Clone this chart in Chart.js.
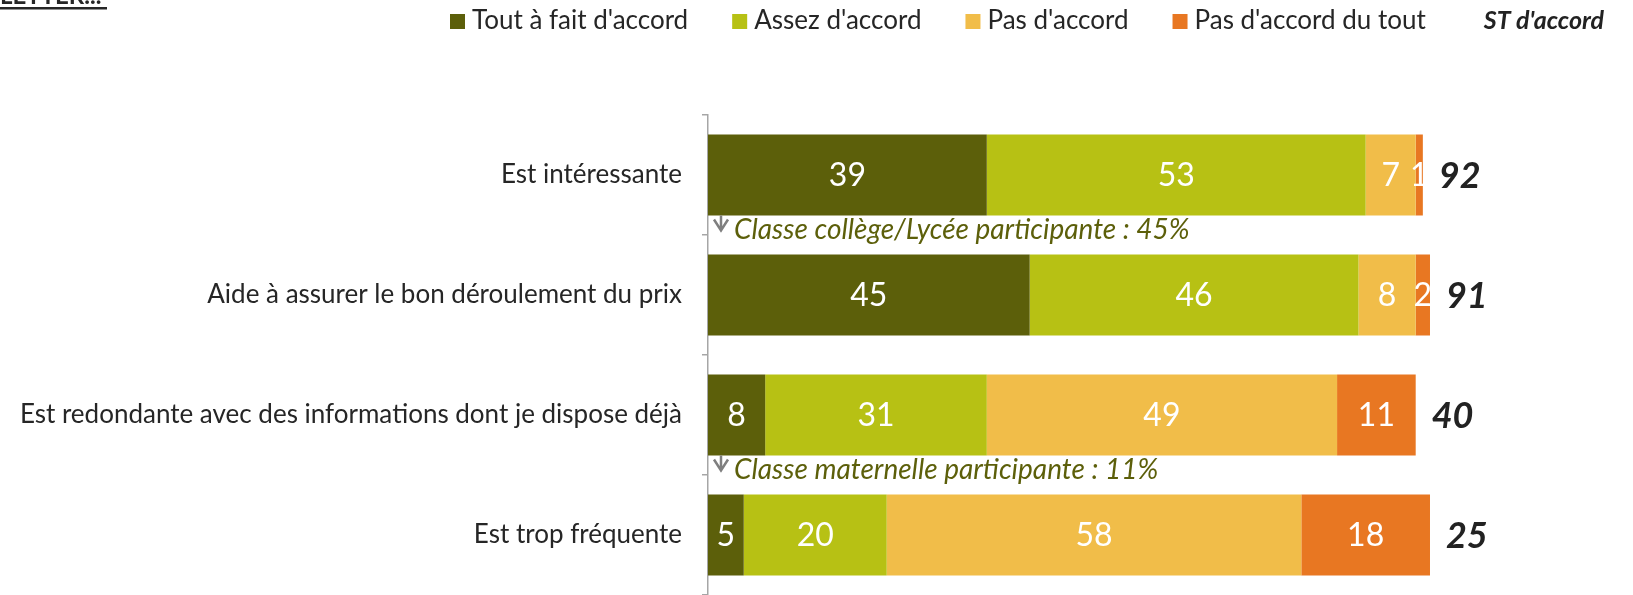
<!DOCTYPE html>
<html>
<head>
<meta charset="utf-8">
<script src="https://cdn.jsdelivr.net/npm/chart.js@4/dist/chart.umd.min.js"></script>
<style>
  body { margin: 0; background: #fff; }
  #wrap { width: 1633px; height: 595px; }
</style>
</head>
<body>
<div id="wrap"><canvas id="accordChart" width="1633" height="595"></canvas></div>
<script>
"use strict";

var categories = [
    "Est intéressante",
    "Aide à assurer le bon déroulement du prix",
    "Est redondante avec des informations dont je dispose déjà",
    "Est trop fréquente"
];
var seriesNames = ["Tout à fait d'accord", "Assez d'accord", "Pas d'accord", "Pas d'accord du tout"];
var toutAFait = [39, 45, 8, 5];
var assez = [53, 46, 31, 20];
var pasAccord = [7, 8, 49, 58];
var pasDuTout = [1, 2, 11, 18];
var stAccord = [92, 91, 40, 25];
var stLabel = "ST d'accord";
var notes = ["Classe collège/Lycée participante : 45%", null, "Classe maternelle participante : 11%", null];

var colors = ["#5c5f0a", "#b7c114", "#f1bd49", "#e87722"];
var FONT = "Lato";

var extras = {
    id: "extras",
    afterDatasetsDraw: function(chart) {
        var ctx = chart.ctx;
        var area = chart.chartArea;
        ctx.save();

        // valeurs dans les barres
        ctx.fillStyle = "#ffffff";
        ctx.textAlign = "center";
        ctx.textBaseline = "middle";
        ctx.font = "32px " + FONT;
        chart.data.datasets.forEach(function(ds, di) {
            var meta = chart.getDatasetMeta(di);
            meta.data.forEach(function(el, i) {
                ctx.fillText(ds.data[i], (el.x + el.base) / 2, el.y + 1);
            });
        });

        // ST d'accord
        var last = chart.getDatasetMeta(chart.data.datasets.length - 1);
        ctx.fillStyle = "#222222";
        ctx.textAlign = "left";
        ctx.font = "italic bold 36px " + FONT;
        last.data.forEach(function(el, i) {
            ctx.fillText(stAccord[i], el.x + 16, el.y + 1);
        });

        // notes sous les barres
        var first = chart.getDatasetMeta(0);
        notes.forEach(function(n, i) {
            if (!n) return;
            var el = first.data[i];
            var b = el.y + el.height / 2;
            var ax = area.left + 13;
            ctx.strokeStyle = "#7f7f7f";
            ctx.lineWidth = 2.5;
            ctx.lineJoin = "miter";
            ctx.beginPath();
            ctx.moveTo(ax, b);
            ctx.lineTo(ax, b + 15);
            ctx.moveTo(ax - 7, b + 4);
            ctx.lineTo(ax, b + 15);
            ctx.lineTo(ax + 7, b + 4);
            ctx.stroke();
            ctx.fillStyle = "#5c5f0a";
            ctx.font = "italic 28px " + FONT;
            ctx.textBaseline = "middle";
            ctx.fillText(n, area.left + 26, b + 14);
        });

        // légende
        ctx.font = "26px " + FONT;
        ctx.textBaseline = "middle";
        var x = 450, ly = 21;
        seriesNames.forEach(function(name, i) {
            ctx.fillStyle = colors[i];
            ctx.fillRect(x, ly - 7, 15, 15);
            ctx.fillStyle = "#262626";
            ctx.fillText(name, x + 22, ly);
            x += 22 + ctx.measureText(name).width + 44;
        });
        ctx.font = "italic bold 25px " + FONT;
        ctx.fillStyle = "#222222";
        ctx.textAlign = "right";
        ctx.fillText(stLabel, 1604, ly);
        ctx.textAlign = "left";

        // titre coupé
        ctx.font = "bold 24px " + FONT;
        ctx.fillStyle = "#262626";
        ctx.textBaseline = "alphabetic";
        ctx.fillText("LETTER...", 0, 4);
        ctx.fillRect(0, 7, 107, 2.5);

        ctx.restore();
    }
};

var datos = {
    type: "bar",
    data: {
        labels: categories,
        datasets: [
            { label: seriesNames[0], data: toutAFait, backgroundColor: colors[0] },
            { label: seriesNames[1], data: assez, backgroundColor: colors[1] },
            { label: seriesNames[2], data: pasAccord, backgroundColor: colors[2] },
            { label: seriesNames[3], data: pasDuTout, backgroundColor: colors[3] }
        ]
    },
    options: {
        indexAxis: "y",
        responsive: false,
        animation: false,
        layout: { padding: { top: 115, right: 10, bottom: 0, left: 0 } },
        datasets: { bar: { categoryPercentage: 0.675, barPercentage: 1, borderWidth: 0 } },
        plugins: { legend: { display: false }, tooltip: { enabled: false } },
        scales: {
            x: { stacked: true, min: 0, max: 128, display: false },
            y: {
                stacked: true,
                grid: { display: true, drawOnChartArea: false, drawTicks: true, tickLength: 6, color: "#a6a6a6", lineWidth: 1.5 },
                border: { display: true, color: "#a6a6a6", width: 1.5 },
                ticks: { color: "#262626", font: { family: FONT, size: 26 }, padding: 20 },
                afterFit: function(s) {
                    s.width = 708;
                    s.paddingTop = 0;
                    s.paddingBottom = 0;
                }
            }
        }
    },
    plugins: [extras]
};

var popCanvas = document.getElementById("accordChart").getContext("2d");
window.bars = new Chart(popCanvas, datos);
</script>
</body>
</html>
